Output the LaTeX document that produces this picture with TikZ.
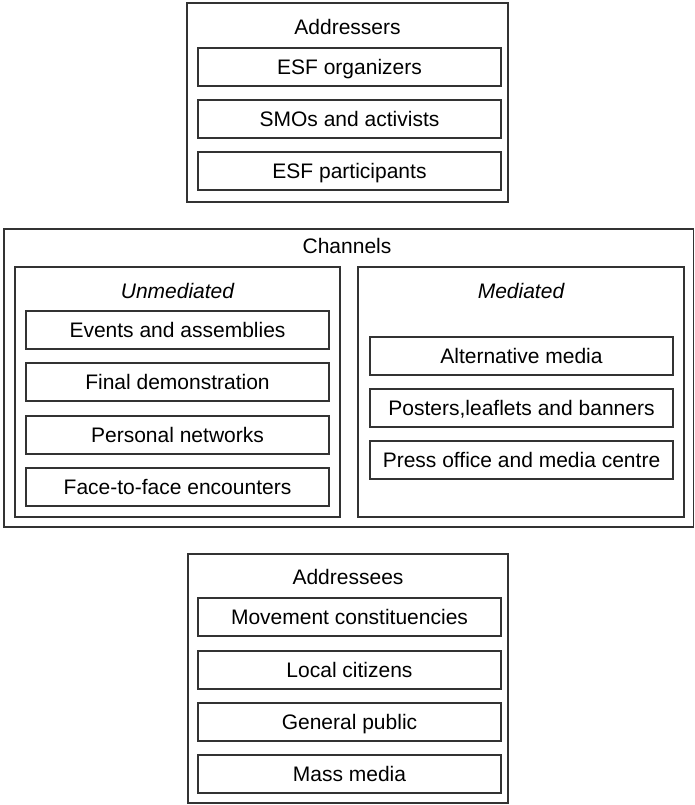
\documentclass[tikz,border=0pt]{standalone}
\usepackage{fontspec}
\setmainfont{Liberation Sans}
\begin{document}
\begin{tikzpicture}[x=1pt,y=-1pt,
  frame/.style={draw=black!80, line width=1.1pt},
  inbox/.style={draw=black!80, line width=1.1pt, minimum width=303pt, minimum height=38pt,
    inner sep=0pt, text height=15pt, text depth=0pt, font=\fontsize{21}{25}\selectfont},
  title/.style={anchor=base, inner sep=0pt, font=\fontsize{21}{25}\selectfont},
  ititle/.style={title, font=\fontsize{21}{25}\selectfont\itshape}]
\useasboundingbox (0,0) rectangle (694,805);
% Addressers
\draw[frame] (187,3) rectangle (508,202);
\node[title] (addr) at (347.5,35) {Addressers};
\node[inbox] (a1) at (349.5,67) {ESF organizers};
\node[inbox] (a2) at (349.5,119) {SMOs and activists};
\node[inbox] (a3) at (349.5,171) {ESF participants};
% Channels
\draw[frame] (4,229) rectangle (693.5,527);
\node[title] (chan) at (347,253) {Channels};
\draw[frame] (15,267) rectangle (340,517);
\node[ititle] (unmed) at (177.5,298) {Unmediated};
\node[inbox] (u1) at (177.5,330) {Events and assemblies};
\node[inbox] (u2) at (177.5,382) {Final demonstration};
\node[inbox] (u3) at (177.5,435) {Personal networks};
\node[inbox] (u4) at (177.5,487) {Face-to-face encounters};
\draw[frame] (358,267) rectangle (684,517);
\node[ititle] (med) at (521,298) {Mediated};
\node[inbox] (m1) at (521.5,356) {Alternative media};
\node[inbox] (m2) at (521.5,408) {Posters,leaflets and banners};
\node[inbox] (m3) at (521.5,460) {Press office and media centre};
% Addressees
\draw[frame] (188,554) rectangle (508,803);
\node[title] (adee) at (348,584) {Addressees};
\node[inbox] (e1) at (349.5,617) {Movement constituencies};
\node[inbox] (e2) at (349.5,670) {Local citizens};
\node[inbox] (e3) at (349.5,722) {General public};
\node[inbox] (e4) at (349.5,774) {Mass media};
\end{tikzpicture}
\end{document}
